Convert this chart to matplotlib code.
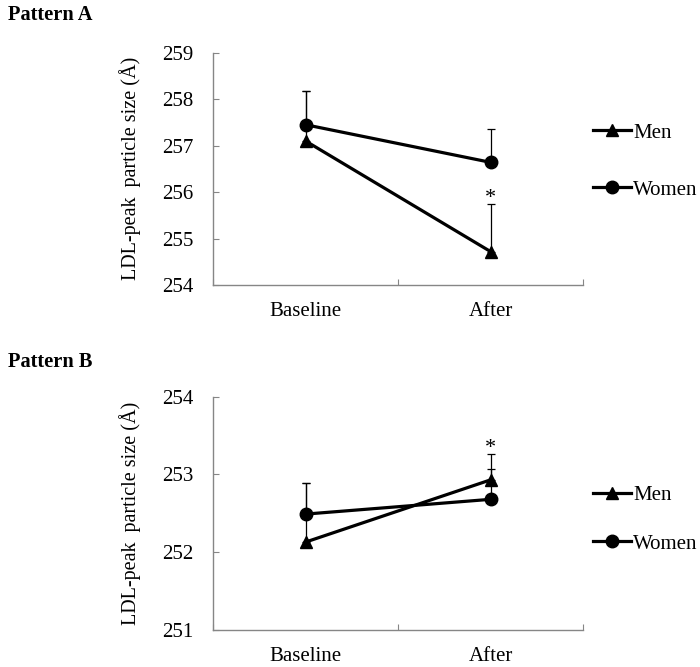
import numpy as np
from matplotlib import pyplot as plt

plt.rcParams['font.family'] = ['Liberation Serif', 'DejaVu Serif']
plt.rcParams['font.size'] = 15

groups = ["Baseline", "After"]

# Pattern A
a_men = [257.10, 254.72]
a_men_se = [1.08, 1.03]
a_women = [257.45, 256.64]
a_women_se = [0.73, 0.72]
a_yticks = [254, 255, 256, 257, 258, 259]

# Pattern B
b_men = [252.13, 252.93]
b_men_se = [0.76, 0.33]
b_women = [252.49, 252.68]
b_women_se = [0.40, 0.39]
b_yticks = [251, 252, 253, 254]

AXIS_GREY = "#868686"


def draw_panel(ax, men, men_se, women, women_se, yticks, star_on, legend_y, spacing):
    x = np.arange(len(groups)) + 0.5
    zeros = np.zeros(len(groups))

    # upper error bars only
    ax.errorbar(x, women, yerr=[zeros, women_se], fmt='none', ecolor='black',
                elinewidth=0.9, capsize=3, capthick=0.9, zorder=2)
    ax.errorbar(x, men, yerr=[zeros, men_se], fmt='none', ecolor='black',
                elinewidth=0.9, capsize=3, capthick=0.9, zorder=2)

    ax.plot(x, men, color='black', lw=2.3, marker='^', markersize=9, label='Men', zorder=3)
    ax.plot(x, women, color='black', lw=2.3, marker='o', markersize=9, label='Women', zorder=3)

    # significance marker above the men's error bar
    i = star_on
    ax.annotate('*', (x[i], men[i] + men_se[i]), xytext=(0, -3), textcoords='offset points',
                ha='center', va='bottom', fontsize=16)

    ax.set_xlim(0, len(groups))
    ax.set_ylim(yticks[0], yticks[-1])
    ax.set_yticks(yticks)
    ax.set_xticks([0, 1, 2])
    ax.set_xticklabels([])
    ax.set_xticks(x, minor=True)
    ax.set_xticklabels(groups, minor=True)

    for side in ['top', 'right']:
        ax.spines[side].set_visible(False)
    for side in ['left', 'bottom']:
        ax.spines[side].set_color(AXIS_GREY)
        ax.spines[side].set_linewidth(1.0)

    ax.tick_params(axis='y', direction='in', length=4, color=AXIS_GREY, pad=14)
    ax.tick_params(axis='x', which='major', direction='in', length=4, color=AXIS_GREY)
    ax.tick_params(axis='x', which='minor', length=0, pad=12)

    ax.set_ylabel("LDL-peak  particle size (Å)", fontsize=14.5, labelpad=15)

    ax.legend(loc='center left', bbox_to_anchor=(1.0, legend_y), frameon=False,
              handlelength=1.8, handletextpad=0.12, labelspacing=spacing,
              borderaxespad=0.1)


def main():
    fig = plt.figure(figsize=(7.0, 6.67), dpi=100)
    ax_a = fig.add_axes([0.3043, 0.5727, 0.5286, 0.3483])
    ax_b = fig.add_axes([0.3043, 0.0555, 0.5286, 0.3498])

    draw_panel(ax_a, a_men, a_men_se, a_women, a_women_se, a_yticks, 1, 0.532, 1.8)
    draw_panel(ax_b, b_men, b_men_se, b_women, b_women_se, b_yticks, 1, 0.474, 1.4)

    fig.text(0.011, 0.978, "Pattern A", fontweight='bold', fontsize=14.7, va='center')
    fig.text(0.011, 0.457, "Pattern B", fontweight='bold', fontsize=14.7, va='center')

    fig.savefig("out.png", dpi=100)
    plt.close(fig)


if __name__ == '__main__':
    main()
